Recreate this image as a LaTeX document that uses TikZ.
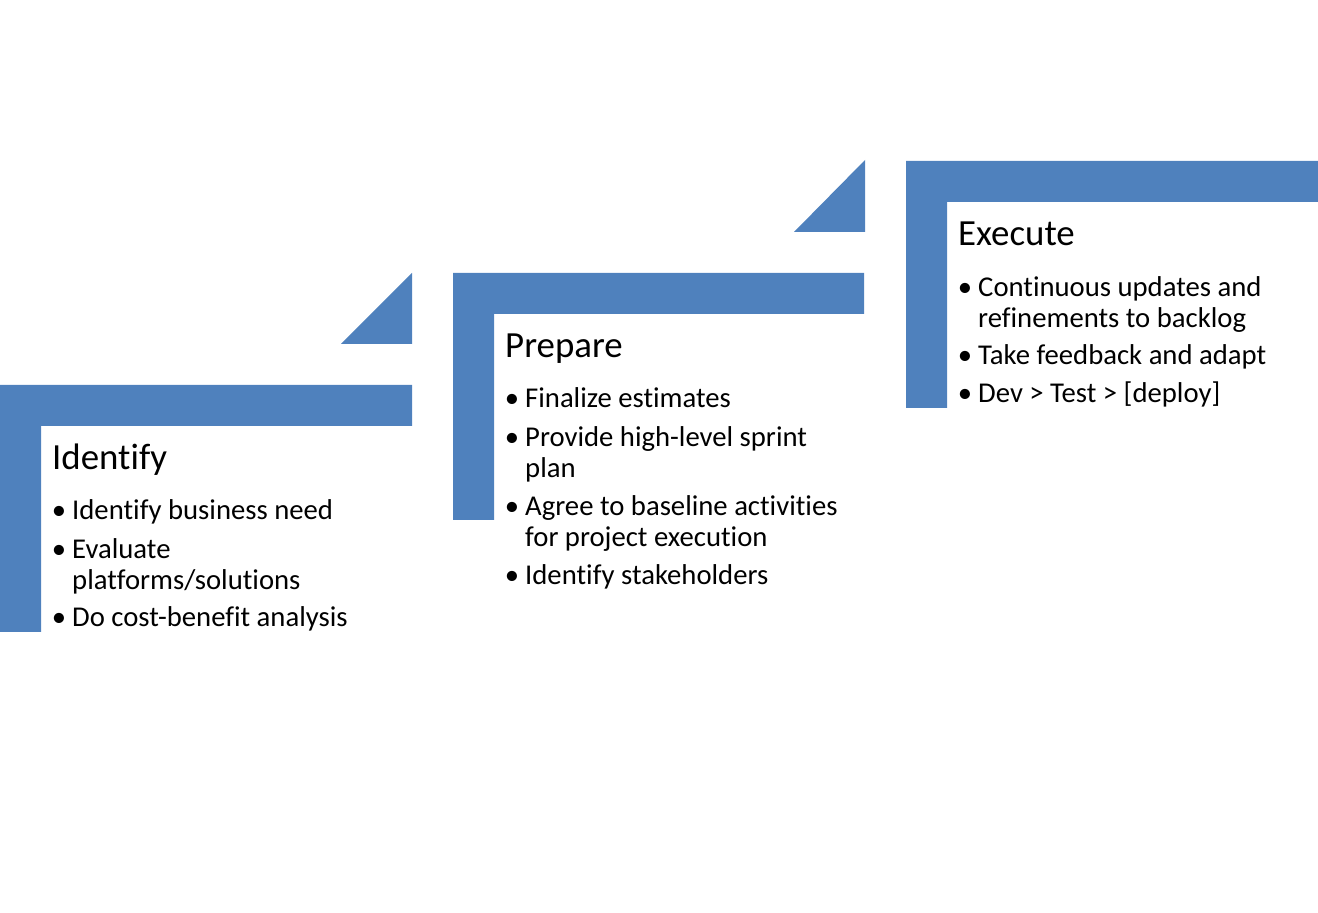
\documentclass[tikz,border=0pt]{standalone}
\usepackage{fontspec}
\setmainfont[Ligatures=NoCommon]{Carlito}
\definecolor{stepblue}{HTML}{4F81BD}
\tikzset{
  corner/.style={fill=stepblue, draw=none},
  steptitle/.style={anchor=base west, inner sep=0pt, font=\fontsize{37}{40}\selectfont},
  stepitem/.style={anchor=base west, inner sep=0pt, align=left, font=\fontsize{28.8}{32}\selectfont}
}
\newcommand{\bul}{\llap{\textbullet\hspace{6bp}}}
\begin{document}
\begin{tikzpicture}
  \useasboundingbox (0bp,0bp) rectangle (1318bp,913bp);

  % corner bars and wedges
  \fill[corner] (0bp,281bp) -- (0bp,528bp) -- (412bp,528bp) -- (412bp,487bp) -- (41bp,487bp) -- (41bp,281bp) -- cycle;
  \fill[corner] (341bp,569bp) -- (412bp,569bp) -- (412bp,640bp) -- cycle;
  \fill[corner] (453bp,393bp) -- (453bp,640bp) -- (864bp,640bp) -- (864bp,599bp) -- (494bp,599bp) -- (494bp,393bp) -- cycle;
  \fill[corner] (794bp,681bp) -- (865bp,681bp) -- (865bp,753bp) -- cycle;
  \fill[corner] (906bp,505bp) -- (906bp,752bp) -- (1318bp,752bp) -- (1318bp,711bp) -- (947bp,711bp) -- (947bp,505bp) -- cycle;

  % identify (base = last line)
  \node (idT) at (52bp,443bp) [steptitle] {Identify};
  \node (idA) at (72bp,393bp) [stepitem] {\bul Identify business need};
  \node (idB) at (72bp,323bp) [stepitem] {\bul Evaluate\\platforms/solutions};
  \node (idC) at (72bp,286bp) [stepitem] {\bul Do cost-benefit analysis};

  % prepare
  \node (prT) at (505bp,555bp) [steptitle] {Prepare};
  \node (prA) at (525bp,505bp) [stepitem] {\bul Finalize estimates};
  \node (prB) at (525bp,435bp) [stepitem] {\bul Provide high-level sprint\\plan};
  \node (prC) at (525bp,366bp) [stepitem] {\bul Agree to baseline activities\\for project execution};
  \node (prD) at (525bp,328bp) [stepitem] {\bul Identify stakeholders};

  % execute
  \node (exT) at (958bp,667bp) [steptitle] {Execute};
  \node (exA) at (978bp,585bp) [stepitem] {\bul Continuous updates and\\refinements to backlog};
  \node (exB) at (978bp,548bp) [stepitem] {\bul Take feedback and adapt};
  \node (exC) at (978bp,510bp) [stepitem] {\bul Dev > Test > [deploy]};
\end{tikzpicture}
\end{document}
